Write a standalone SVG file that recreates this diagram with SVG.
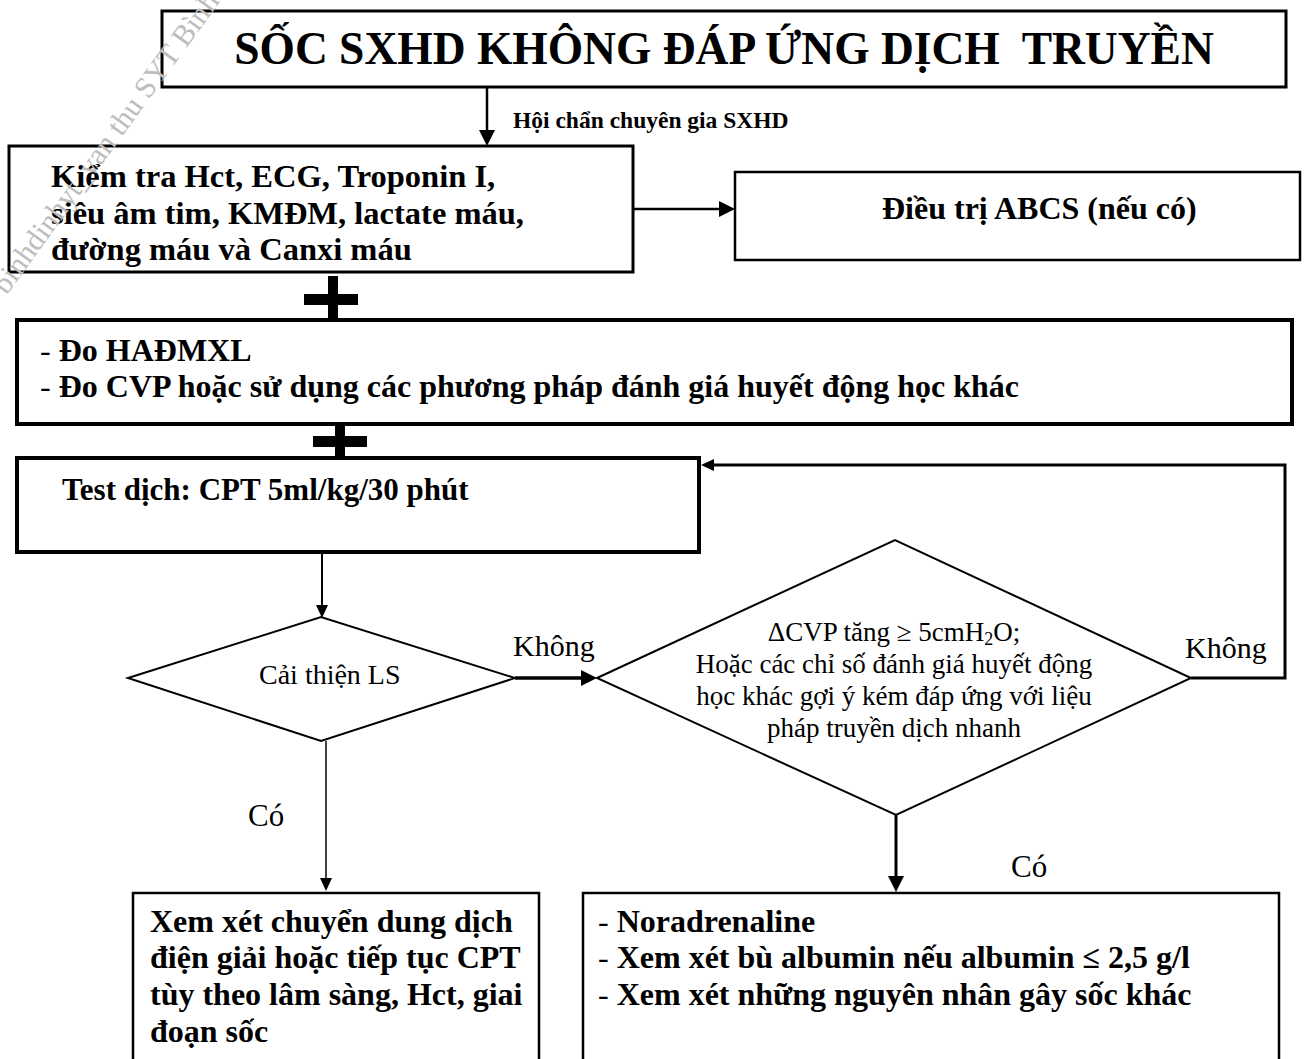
<svg xmlns="http://www.w3.org/2000/svg" width="1308" height="1059" viewBox="0 0 1308 1059">
<defs>
<style>
text{font-family:"Liberation Serif","Times New Roman",serif;fill:#000}
.b{font-weight:bold}
.box{fill:#fff;stroke:#000}
.dia{fill:#fff;stroke:#000;stroke-width:2}
.ln{fill:none;stroke:#000}
.wm{font-size:30px;fill:#bdbdbd}
.pre{white-space:pre}
.r{font-weight:normal}
</style>
<marker id="ah" markerUnits="userSpaceOnUse" viewBox="0 0 16 16" refX="8" refY="8" markerWidth="16" markerHeight="16" orient="auto">
<path d="M0,0 L16,8 L0,16 Z" fill="#000"/>
</marker>
<marker id="ahs" markerUnits="userSpaceOnUse" viewBox="0 0 13 12" refX="6" refY="6" markerWidth="13" markerHeight="12" orient="auto">
<path d="M0,0 L13,6 L0,12 Z" fill="#000"/>
</marker>
</defs>
<rect width="1308" height="1059" fill="#fff"/>

<g id="connectors">
<line class="ln" x1="487" y1="88" x2="487" y2="138" stroke-width="2.5" marker-end="url(#ah)"/>
<line class="ln" x1="633" y1="209" x2="727" y2="209" stroke-width="2.5" marker-end="url(#ah)"/>
<rect x="328" y="276" width="10" height="44" fill="#000"/>
<rect x="304" y="294" width="54" height="11" fill="#000"/>
<rect x="335" y="424" width="10" height="35" fill="#000"/>
<rect x="313" y="436" width="54" height="11" fill="#000"/>
<line class="ln" x1="322" y1="554" x2="322" y2="611" stroke-width="2" marker-end="url(#ahs)"/>
<line class="ln" x1="515" y1="678" x2="589" y2="678" stroke-width="3.5" marker-end="url(#ah)"/>
<polyline class="ln" points="1191,678 1285,678 1285,465 708,465" stroke-width="3" marker-end="url(#ahs)"/>
<line class="ln" x1="896" y1="815" x2="896" y2="884" stroke-width="3" marker-end="url(#ah)"/>
<line class="ln" x1="326" y1="741" x2="326" y2="884" stroke-width="1.5" marker-end="url(#ahs)"/>
<text class="b" x="513" y="128" font-size="23.5">Hội chẩn chuyên gia SXHD</text>
<text x="513" y="656" font-size="30">Không</text>
<text x="1185" y="658" font-size="30">Không</text>
<text x="248" y="826" font-size="31">Có</text>
<text x="1011" y="877" font-size="31">Có</text>
</g>

<g id="title">
<rect class="box" x="162" y="11" width="1124" height="76" stroke-width="3"/>
<text class="b pre" x="724" y="64" font-size="45.5" text-anchor="middle">SỐC SXHD KHÔNG ĐÁP ỨNG DỊCH  TRUYỀN</text>
</g>

<g id="kiem-tra">
<rect class="box" x="9" y="146" width="624" height="126" stroke-width="3"/>
<text class="b" font-size="32.5"><tspan x="51" y="187">Kiểm tra Hct, ECG, Troponin I,</tspan><tspan x="51" y="224">siêu âm tim, KMĐM, lactate máu,</tspan><tspan x="51" y="260">đường máu và Canxi máu</tspan></text>
</g>

<g id="abcs">
<rect class="box" x="735" y="172" width="565" height="88" stroke-width="2.5"/>
<text class="b" x="882" y="219" font-size="32">Điều trị ABCS (nếu có)</text>
</g>

<g id="hadmxl">
<rect class="box" x="17" y="320" width="1275" height="104" stroke-width="4"/>
<text class="b" font-size="32"><tspan x="40" y="361"><tspan class="r">- </tspan>Đo HAĐMXL</tspan><tspan x="40" y="397"><tspan class="r">- </tspan>Đo CVP hoặc sử dụng các phương pháp đánh giá huyết động học khác</tspan></text>
</g>

<g id="test-dich">
<rect class="box" x="17" y="458" width="682" height="94" stroke-width="4"/>
<text class="b" x="62" y="500" font-size="31">Test dịch: CPT 5ml/kg/30 phút</text>
</g>

<g id="cai-thien">
<polygon class="dia" points="128,678 321,617 515,678 321,741"/>
<text x="259" y="684" font-size="28">Cải thiện LS</text>
</g>

<g id="delta-cvp">
<polygon class="dia" points="597,678 895,540 1191,678 896,815"/>
<text font-size="27" text-anchor="middle"><tspan x="894" y="641">ΔCVP tăng ≥ 5cmH<tspan font-size="18" dy="4">2</tspan><tspan dy="-4">O;</tspan></tspan><tspan x="894" y="673">Hoặc các chỉ số đánh giá huyết động</tspan><tspan x="894" y="705">học khác gợi ý kém đáp ứng với liệu</tspan><tspan x="894" y="737">pháp truyền dịch nhanh</tspan></text>
</g>

<g id="xem-xet">
<path class="box" d="M133,1062 L133,893 L539,893 L539,1062" stroke-width="2.5"/>
<text class="b" font-size="32"><tspan x="150" y="932">Xem xét chuyển dung dịch</tspan><tspan x="150" y="968">điện giải hoặc tiếp tục CPT</tspan><tspan x="150" y="1005">tùy theo lâm sàng, Hct, giai</tspan><tspan x="150" y="1042">đoạn sốc</tspan></text>
</g>

<g id="noradrenaline">
<path class="box" d="M583,1062 L583,893 L1279,893 L1279,1062" stroke-width="2.5"/>
<text class="b" font-size="32"><tspan x="598" y="932"><tspan class="r">- </tspan>Noradrenaline</tspan><tspan x="598" y="968"><tspan class="r">- </tspan>Xem xét bù albumin nếu albumin ≤ 2,5 g/l</tspan><tspan x="598" y="1005"><tspan class="r">- </tspan>Xem xét những nguyên nhân gây sốc khác</tspan></text>
</g>

<text class="wm" transform="translate(6.5,295.6) rotate(-54)">binhdinhyt_van thu SYT Bình Định</text>
</svg>
